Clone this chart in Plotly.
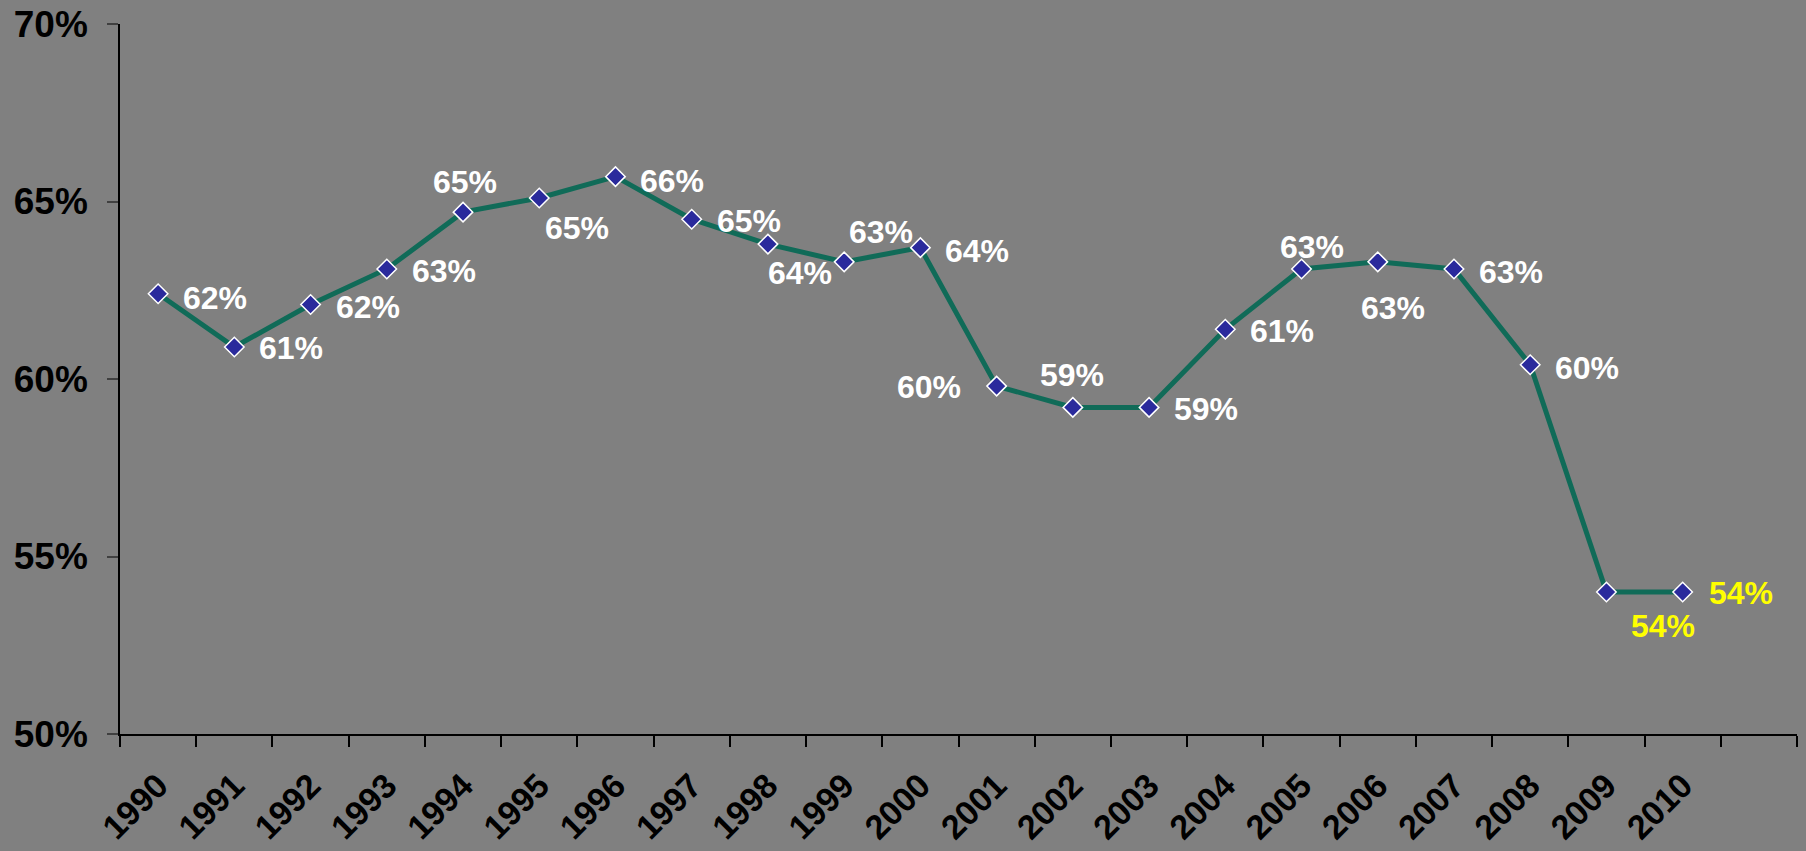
import plotly.graph_objects as go

years = list(range(1990, 2011))
values = [62.4, 60.9, 62.1, 63.1, 64.7, 65.1, 65.7, 64.5, 63.8, 63.3, 63.7,
          59.8, 59.2, 59.2, 61.4, 63.1, 63.3, 63.1, 60.4, 54.0, 54.0]
labels = ["62%", "61%", "62%", "63%", "65%", "65%", "66%", "65%", "64%", "63%", "64%",
          "60%", "59%", "59%", "61%", "63%", "63%", "63%", "60%", "54%", "54%"]
label_colors = ["white"] * 19 + ["#ffff00", "#ffff00"]

# label offsets from each marker in pixels (dx right, dy down)
label_dx = [57, 57, 57, 57, 2, 38, 57, 57, 32, 37, 57, -68, -1, 57, 57, 10, 15, 57, 57, 57, 58]
label_dy = [4, 1, 3, 2, -30, 30, 4, 2, 29, -30, 3, 1, -32, 2, 2, -22, 46, 3, 3, 34, 1]

FONT = "Liberation Sans, Arial, sans-serif"

fig = go.Figure()
fig.add_trace(go.Scatter(
    x=years, y=values, mode="lines+markers",
    line=dict(color="#106b58", width=5),
    marker=dict(symbol="diamond", size=15, color="#2a2a9c",
                line=dict(color="white", width=1.5)),
    cliponaxis=False,
    showlegend=False,
))

for yr, v, t, c, dx, dy in zip(years, values, labels, label_colors, label_dx, label_dy):
    fig.add_annotation(
        x=yr, y=v, text="<b>" + t + "</b>", showarrow=False,
        xanchor="center", yanchor="middle", xshift=dx, yshift=-dy,
        font=dict(family=FONT, size=32, color=c),
    )

fig.update_layout(
    width=1806, height=851,
    margin=dict(l=120, r=9, t=24, b=117),
    paper_bgcolor="#808080", plot_bgcolor="#808080",
    font=dict(family=FONT, color="black"),
    xaxis=dict(
        range=[1989.5, 2011.5], tickmode="array", tickvals=years,
        ticktext=["<b>%d</b>" % y for y in years],
        tickangle=-45, ticks="", showgrid=False, zeroline=False,
        showline=True, linecolor="black", linewidth=2,
        ticklabelstandoff=16, automargin=False,
        tickfont=dict(family=FONT, size=34, color="black"),
        minor=dict(tickmode="array", tickvals=[y - 0.5 for y in years] + [2010.5, 2011.5],
                   ticks="outside", ticklen=11, tickcolor="black", tickwidth=1.5),
    ),
    yaxis=dict(
        range=[50, 70], tickmode="array", tickvals=[50, 55, 60, 65, 70],
        ticktext=["<b>%d%%</b>" % v for v in [50, 55, 60, 65, 70]],
        ticks="outside", ticklen=11, tickcolor="#404040", tickwidth=1.5,
        showgrid=False, zeroline=False, ticklabelstandoff=12, automargin=False,
        showline=True, linecolor="black", linewidth=1.5,
        tickfont=dict(family=FONT, size=37, color="black"),
    ),
)

fig.write_html("out.html")
